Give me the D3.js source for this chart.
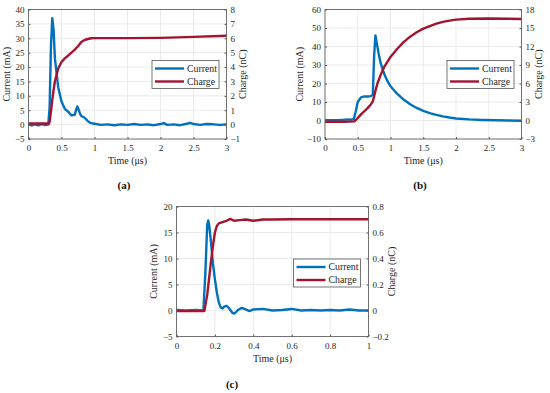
<!DOCTYPE html>
<html>
<head>
<meta charset="utf-8">
<script src="https://d3js.org/d3.v7.min.js"></script>
<style>
  body { margin: 0; background: #fff; }
</style>
</head>
<body>
<div id="chart"></div>
<script>
// ---- panel (a) ----
const timeA    = [0, 0.05, 0.1, 0.15, 0.2, 0.25, 0.3, 0.32, 0.34, 0.36, 0.38, 0.4, 0.42, 0.45, 0.48, 0.5, 0.55, 0.6, 0.65, 0.7, 0.72, 0.74, 0.76, 0.78, 0.8, 0.85, 0.9, 0.95, 1.0, 1.1, 1.2, 1.3, 1.4, 1.5, 1.6, 1.7, 1.8, 1.9, 2.0, 2.05, 2.1, 2.2, 2.3, 2.4, 2.45, 2.5, 2.6, 2.7, 2.8, 2.9, 3.0];
const currentA = [0.2, -0.3, 0.1, -0.3, 0.2, -0.2, 0, 6, 27, 37, 33, 23, 19, 13, 10, 8, 5.5, 4.5, 3.2, 3.4, 5, 6.3, 5.2, 3.8, 3, 2.4, 1.2, 0.5, 0.3, -0.1, 0.1, -0.2, 0.1, -0.1, 0.2, -0.1, 0.1, -0.2, 0.2, 0.5, -0.1, 0.1, -0.2, 0.3, 0.6, 0.2, -0.1, 0.2, 0.1, -0.1, 0.1];
const chargeTimeA = [0, 0.31, 0.32, 0.34, 0.36, 0.38, 0.4, 0.45, 0.5, 0.55, 0.6, 0.65, 0.7, 0.75, 0.8, 0.85, 0.9, 0.95, 1.0, 1.5, 2.0, 2.5, 3.0];
const chargeA     = [0.08, 0.08, 0.2, 0.9, 1.7, 2.4, 3.0, 3.9, 4.35, 4.6, 4.8, 5.0, 5.2, 5.45, 5.74, 5.88, 5.95, 6.0, 6.01, 6.01, 6.03, 6.1, 6.18];

// ---- panel (b) ----
const timeB    = [0, 0.1, 0.2, 0.3, 0.35, 0.4, 0.44, 0.47, 0.5, 0.55, 0.6, 0.65, 0.7, 0.73, 0.75, 0.77, 0.79, 0.82, 0.85, 0.9, 0.95, 1.0, 1.1, 1.2, 1.3, 1.4, 1.5, 1.6, 1.7, 1.8, 1.9, 2.0, 2.2, 2.4, 2.6, 2.8, 3.0];
const currentB = [0.2, 0.2, 0.2, 0.4, 0.6, 0.4, 0.8, 5, 10, 12.5, 13, 13, 13.2, 14, 35, 46, 42, 36, 31, 25.5, 21.5, 18.5, 14.5, 11.3, 8.8, 6.8, 5.2, 4.0, 3.0, 2.2, 1.6, 1.1, 0.6, 0.3, 0.1, 0.0, -0.1];
const chargeTimeB = [0, 0.3, 0.45, 0.5, 0.55, 0.6, 0.65, 0.7, 0.73, 0.77, 0.8, 0.85, 0.9, 1.0, 1.1, 1.2, 1.3, 1.4, 1.5, 1.6, 1.7, 1.8, 1.9, 2.0, 2.2, 2.5, 2.8, 3.0];
const chargeB     = [-0.2, -0.2, -0.15, 0.4, 1.0, 1.5, 2.0, 2.6, 3.1, 4.8, 6.0, 7.4, 8.6, 10.3, 11.6, 12.7, 13.6, 14.3, 14.9, 15.3, 15.7, 16.0, 16.2, 16.35, 16.5, 16.55, 16.5, 16.45];

// ---- panel (c) ----
const timeC    = [0, 0.05, 0.1, 0.14, 0.15, 0.16, 0.165, 0.17, 0.18, 0.19, 0.2, 0.21, 0.22, 0.23, 0.24, 0.25, 0.26, 0.27, 0.28, 0.29, 0.3, 0.31, 0.32, 0.34, 0.36, 0.38, 0.4, 0.45, 0.5, 0.55, 0.6, 0.65, 0.7, 0.75, 0.8, 0.85, 0.9, 0.95, 1.0];
const currentC = [0.1, 0.0, 0.1, 0.0, 7, 16.5, 17.3, 16.5, 13, 9, 6, 3.5, 1.6, 0.6, 0.4, 0.8, 0.9, 0.6, 0.1, -0.4, -0.6, -0.3, 0.1, 0.5, 0.2, -0.1, 0.2, 0.3, 0.0, 0.1, 0.3, 0.0, 0.1, 0.0, 0.1, 0.0, 0.2, 0.0, 0.0];
const chargeTimeC = [0, 0.1, 0.145, 0.16, 0.17, 0.18, 0.19, 0.2, 0.21, 0.22, 0.24, 0.26, 0.28, 0.3, 0.33, 0.36, 0.4, 0.45, 0.5, 0.6, 0.8, 1.0];
const chargeC     = [-0.005, -0.005, -0.005, 0.12, 0.25, 0.38, 0.5, 0.6, 0.65, 0.67, 0.68, 0.69, 0.705, 0.69, 0.695, 0.7, 0.69, 0.7, 0.7, 0.702, 0.702, 0.702];

const W = 550, H = 393;
const blue = "#0072bd", red = "#a2142f";
const serif = "'Liberation Serif', 'Times New Roman', serif";

const svg = d3.select("#chart").append("svg")
    .attr("width", W).attr("height", H)
    .attr("font-family", serif);

function drawPanel(p) {
    const x = d3.scaleLinear().domain(p.xDomain).range([p.left, p.right]);
    const yL = d3.scaleLinear().domain(p.yDomain).range([p.bottom, p.top]);
    const yR = d3.scaleLinear().domain(p.y2Domain).range([p.bottom, p.top]);
    const g = svg.append("g");

    // grid
    g.append("g").selectAll("line").data(p.xTicks).join("line")
        .attr("x1", d => x(d)).attr("x2", d => x(d))
        .attr("y1", p.top).attr("y2", p.bottom)
        .attr("stroke", "#e6e6e6").attr("stroke-width", 0.8);
    g.append("g").selectAll("line").data(p.yTicks).join("line")
        .attr("x1", p.left).attr("x2", p.right)
        .attr("y1", d => yL(d)).attr("y2", d => yL(d))
        .attr("stroke", "#e6e6e6").attr("stroke-width", 0.8);

    // lines
    const lineI = d3.line().x(d => x(d[0])).y(d => yL(d[1]));
    const lineQ = d3.line().x(d => x(d[0])).y(d => yR(d[1]));
    g.append("path").datum(d3.zip(p.time, p.current))
        .attr("d", lineI).attr("fill", "none")
        .attr("stroke", blue).attr("stroke-width", 2.4).attr("stroke-linejoin", "round");
    g.append("path").datum(d3.zip(p.chargeTime, p.charge))
        .attr("d", lineQ).attr("fill", "none")
        .attr("stroke", red).attr("stroke-width", 2.4).attr("stroke-linejoin", "round");

    // axes
    const fmt = d3.format("~g");
    const ax = g.append("g").attr("transform", `translate(0,${p.bottom})`)
        .call(d3.axisBottom(x).tickValues(p.xTicks).tickFormat(fmt).tickSize(-2).tickSizeOuter(0).tickPadding(6));
    const ay = g.append("g").attr("transform", `translate(${p.left},0)`)
        .call(d3.axisLeft(yL).tickValues(p.yTicks).tickFormat(fmt).tickSize(-2).tickSizeOuter(0).tickPadding(4));
    const ay2 = g.append("g").attr("transform", `translate(${p.right},0)`)
        .call(d3.axisRight(yR).tickValues(p.y2Ticks).tickFormat(fmt).tickSize(-2).tickSizeOuter(0).tickPadding(4));
    [ax, ay, ay2].forEach(a => {
        a.attr("font-family", serif).attr("font-size", 9);
        a.select(".domain").remove();
        a.selectAll("line").attr("stroke", "#555");
        a.selectAll("text").attr("fill", "#262626");
    });

    // box
    g.append("rect").attr("x", p.left).attr("y", p.top)
        .attr("width", p.right - p.left).attr("height", p.bottom - p.top)
        .attr("fill", "none").attr("stroke", "#555").attr("stroke-width", 0.8);

    // labels
    g.append("text").attr("x", (p.left + p.right) / 2).attr("y", p.bottom + 25)
        .attr("text-anchor", "middle").attr("font-size", 10).attr("fill", "#262626")
        .text("Time (\u03bcs)");
    g.append("text")
        .attr("transform", `translate(${p.left - p.labL},${(p.top + p.bottom) / 2}) rotate(-90)`)
        .attr("text-anchor", "middle").attr("font-size", 10).attr("fill", "#262626")
        .text("Current (mA)");
    g.append("text")
        .attr("transform", `translate(${p.right + p.labR},${(p.top + p.bottom) / 2}) rotate(-90)`)
        .attr("text-anchor", "middle").attr("font-size", 10).attr("fill", "#262626")
        .text("Charge (nC)");

    // legend
    const lg = g.append("g").attr("transform", `translate(${p.legX},${p.legY})`);
    lg.append("rect").attr("width", 67).attr("height", 28)
        .attr("fill", "#fff").attr("stroke", "#555").attr("stroke-width", 0.8);
    [["Current", blue], ["Charge", red]].forEach(([name, c], i) => {
        const yy = 8 + i * 13;
        lg.append("line").attr("x1", 3).attr("x2", 32).attr("y1", yy).attr("y2", yy)
            .attr("stroke", c).attr("stroke-width", 2.4);
        lg.append("text").attr("x", 35).attr("y", yy + 3.3)
            .attr("font-size", 9.8).attr("fill", "#262626").text(name);
    });

    // caption
    g.append("text").attr("x", p.capX).attr("y", p.capY)
        .attr("text-anchor", "middle").attr("font-size", 11)
        .attr("font-weight", "bold").attr("fill", "#111").text(p.caption);
}

drawPanel({
    left: 28.5, right: 226.5, top: 9.5, bottom: 139,
    xDomain: [0, 3], yDomain: [-5, 40], y2Domain: [-1, 8],
    xTicks: [0, 0.5, 1, 1.5, 2, 2.5, 3],
    yTicks: [-5, 0, 5, 10, 15, 20, 25, 30, 35, 40],
    y2Ticks: [-1, 0, 1, 2, 3, 4, 5, 6, 7, 8],
    time: timeA, current: currentA, chargeTime: chargeTimeA, charge: chargeA,
    labL: 19, labR: 19,
    legX: 152, legY: 60.5, caption: "(a)", capX: 124, capY: 189
});
drawPanel({
    left: 325, right: 521.5, top: 9.5, bottom: 139,
    xDomain: [0, 3], yDomain: [-10, 60], y2Domain: [-3, 18],
    xTicks: [0, 0.5, 1, 1.5, 2, 2.5, 3],
    yTicks: [-10, 0, 10, 20, 30, 40, 50, 60],
    y2Ticks: [-3, 0, 3, 6, 9, 12, 15, 18],
    time: timeB, current: currentB, chargeTime: chargeTimeB, charge: chargeB,
    labL: 22, labR: 20,
    legX: 447, legY: 60.5, caption: "(b)", capX: 420, capY: 189
});
drawPanel({
    left: 176.5, right: 368.5, top: 206.5, bottom: 336.5,
    xDomain: [0, 1], yDomain: [-5, 20], y2Domain: [-0.2, 0.8],
    xTicks: [0, 0.2, 0.4, 0.6, 0.8, 1],
    yTicks: [-5, 0, 5, 10, 15, 20],
    y2Ticks: [-0.2, 0, 0.2, 0.4, 0.6, 0.8],
    time: timeC, current: currentC, chargeTime: chargeTimeC, charge: chargeC,
    labL: 20, labR: 26,
    legX: 293.5, legY: 259, caption: "(c)", capX: 232, capY: 388
});
</script>
</body>
</html>
